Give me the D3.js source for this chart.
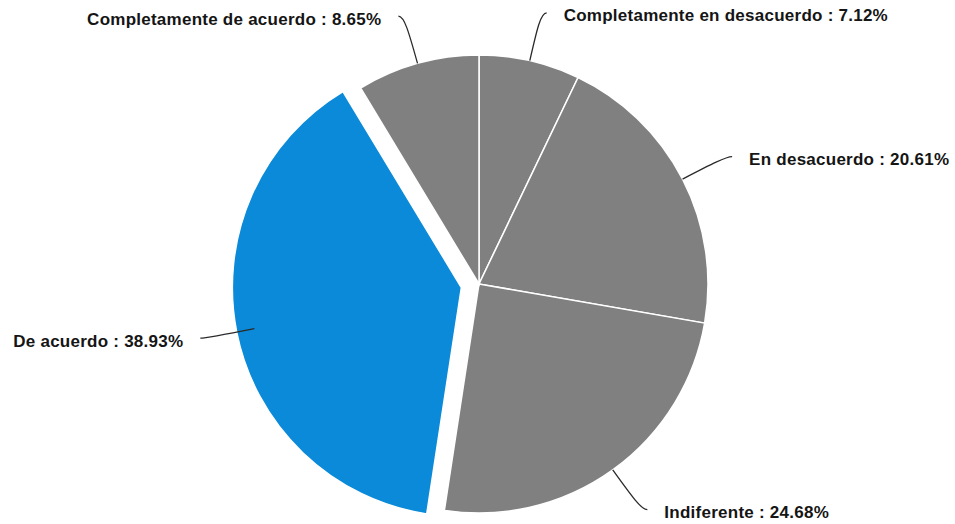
<!DOCTYPE html>
<html>
<head>
<meta charset="utf-8">
<script src="https://cdn.jsdelivr.net/npm/d3@7/dist/d3.min.js"></script>
<style>
  html, body { margin: 0; padding: 0; background: #ffffff; }
  svg { display: block; }
  .label { font-family: "Liberation Sans", Arial, Helvetica, sans-serif; font-weight: bold; font-size: 17px; letter-spacing: 0.25px; fill: #151515; }
</style>
</head>
<body>
<svg id="chart" width="955" height="524"></svg>
<script>
// Survey responses, clockwise from 12 o'clock
const categories = [
  "Completamente en desacuerdo",
  "En desacuerdo",
  "Indiferente",
  "De acuerdo",
  "Completamente de acuerdo"
];
const percentages = [7.12, 20.61, 24.68, 38.93, 8.65];
const highlighted = ["De acuerdo"];

const width = 955, height = 524;
const cx = 479, cy = 284, radius = 229;
const explode = 18;
const grey = "#808080", blue = "#0a8ad8";

const svg = d3.select("#chart");
const g = svg.append("g").attr("transform", `translate(${cx},${cy})`);

const data = categories.map((c, i) => ({ name: c, value: percentages[i] }));

const pie = d3.pie().value(d => d.value).sort(null);
const arcs = pie(data);
const arc = d3.arc().innerRadius(0).outerRadius(radius);

const pt = (a, r) => [Math.sin(a) * r, -Math.cos(a) * r];

// Slices
g.selectAll("path.slice")
  .data(arcs)
  .join("path")
  .attr("class", "slice")
  .attr("d", arc)
  .attr("fill", d => highlighted.includes(d.data.name) ? blue : grey)
  .attr("stroke", "#ffffff")
  .attr("stroke-width", 1.5)
  .attr("transform", d => {
    if (!highlighted.includes(d.data.name)) return null;
    const m = (d.startAngle + d.endAngle) / 2;
    const [dx, dy] = pt(m, explode);
    return `translate(${dx},${dy})`;
  });

// Leader lines and labels
const outerR = 278, ctrlR = 262, hook = 6, gap = 17;
arcs.forEach(d => {
  const m = (d.startAngle + d.endAngle) / 2;
  const right = Math.sin(m) >= 0;
  const p0 = pt(m, radius);
  const p1 = pt(m, ctrlR);
  const po = pt(m, outerR);
  const end = [po[0] + (right ? hook : -hook), po[1]];
  g.append("path")
    .attr("d", `M${p0[0]},${p0[1]} C${p1[0]},${p1[1]} ${po[0]},${po[1]} ${end[0]},${end[1]}`)
    .attr("fill", "none")
    .attr("stroke", "#2a2a2a")
    .attr("stroke-width", 1.3);
  g.append("text")
    .attr("class", "label")
    .attr("x", end[0] + (right ? gap : -gap))
    .attr("y", end[1] + 4)
    .attr("dominant-baseline", "middle")
    .attr("text-anchor", right ? "start" : "end")
    .text(`${d.data.name} : ${d.data.value.toFixed(2)}%`);
});
</script>
</body>
</html>
